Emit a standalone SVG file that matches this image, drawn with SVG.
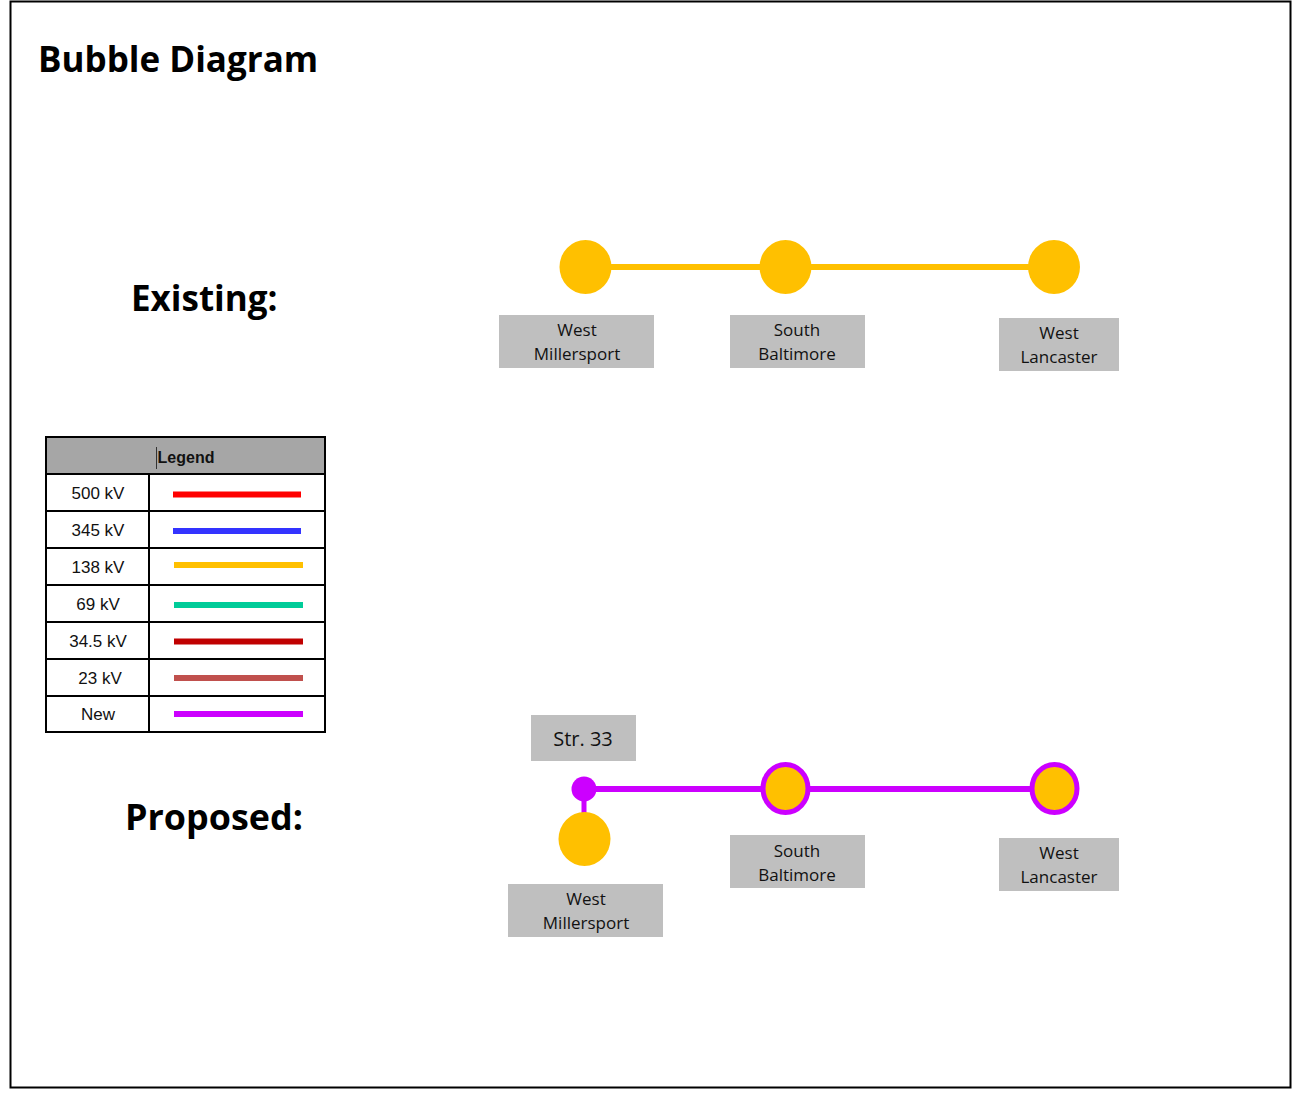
<svg xmlns="http://www.w3.org/2000/svg" width="1294" height="1095" viewBox="0 0 1294 1095">
<style>
.title{font-family:"Open Sans","Liberation Sans",sans-serif;font-weight:bold;font-size:35px;fill:#000}
.lbl{font-family:"Open Sans","Liberation Sans",sans-serif;font-size:17px;fill:#111;text-anchor:middle}
.box{fill:#BFBFBF}
.bub{fill:#FFC000}
.leg{font-family:"Liberation Sans",Arial,sans-serif;font-size:17px;fill:#111;text-anchor:middle}
.cell{fill:#fff;stroke:#000;stroke-width:2}
.ll{stroke-width:6;fill:none}
</style>
<rect x="10.5" y="1.5" width="1280" height="1086" fill="#fff" stroke="#000" stroke-width="2"/>
<text class="title" x="38" y="72">Bubble Diagram</text>
<text class="title" x="131" y="311">Existing:</text>
<text class="title" x="125" y="830" textLength="178" lengthAdjust="spacingAndGlyphs">Proposed:</text>

<g id="legend">
<rect x="46" y="437" width="279" height="37" fill="#A6A6A6" stroke="#000" stroke-width="2"/>
<text x="186" y="463" font-family="Liberation Sans,Arial,sans-serif" font-size="16" font-weight="bold" text-anchor="middle" fill="#111">Legend</text>
<line x1="156.5" y1="447" x2="156.5" y2="469" stroke="#333" stroke-width="1"/>
<rect class="cell" x="46" y="474" width="103" height="37"/><rect class="cell" x="149" y="474" width="176" height="37"/>
<rect class="cell" x="46" y="511" width="103" height="37"/><rect class="cell" x="149" y="511" width="176" height="37"/>
<rect class="cell" x="46" y="548" width="103" height="37"/><rect class="cell" x="149" y="548" width="176" height="37"/>
<rect class="cell" x="46" y="585" width="103" height="37"/><rect class="cell" x="149" y="585" width="176" height="37"/>
<rect class="cell" x="46" y="622" width="103" height="37"/><rect class="cell" x="149" y="622" width="176" height="37"/>
<rect class="cell" x="46" y="659" width="103" height="37"/><rect class="cell" x="149" y="659" width="176" height="37"/>
<rect class="cell" x="46" y="696" width="103" height="36"/><rect class="cell" x="149" y="696" width="176" height="36"/>
<text class="leg" x="98" y="499">500 kV</text>
<text class="leg" x="98" y="536">345 kV</text>
<text class="leg" x="98" y="573">138 kV</text>
<text class="leg" x="98" y="610">69 kV</text>
<text class="leg" x="98" y="647">34.5 kV</text>
<text class="leg" x="100" y="684">23 kV</text>
<text class="leg" x="98" y="720">New</text>
<line class="ll" x1="173" y1="494.5" x2="301" y2="494.5" stroke="#FF0000"/>
<line class="ll" x1="173" y1="531" x2="301" y2="531" stroke="#3333FF"/>
<line class="ll" x1="174" y1="565" x2="303" y2="565" stroke="#FFC000"/>
<line class="ll" x1="174" y1="605" x2="303" y2="605" stroke="#00CC99"/>
<line class="ll" x1="174" y1="641.5" x2="303" y2="641.5" stroke="#C00000"/>
<line class="ll" x1="174" y1="678" x2="303" y2="678" stroke="#C0504D"/>
<line class="ll" x1="174" y1="714" x2="303" y2="714" stroke="#CC00FF"/>
</g>

<g id="connectors">
<line x1="585" y1="267" x2="1054" y2="267" stroke="#FFC000" stroke-width="6"/>
<line x1="584" y1="789" x2="1054" y2="789" stroke="#CC00FF" stroke-width="6"/>
<line x1="584" y1="789" x2="584" y2="816" stroke="#CC00FF" stroke-width="5"/>
</g>

<g id="ex-west-millersport">
<ellipse class="bub" cx="585.5" cy="267" rx="26" ry="27"/>
<rect class="box" x="499" y="315" width="155" height="53"/>
<text class="lbl" x="577" y="336">West</text>
<text class="lbl" x="577" y="360">Millersport</text>
</g>
<g id="ex-south-baltimore">
<ellipse class="bub" cx="785.5" cy="267" rx="26" ry="27"/>
<rect class="box" x="730" y="315" width="135" height="53"/>
<text class="lbl" x="797" y="336">South</text>
<text class="lbl" x="797" y="360">Baltimore</text>
</g>
<g id="ex-west-lancaster">
<ellipse class="bub" cx="1054" cy="267" rx="26" ry="27"/>
<rect class="box" x="999" y="318" width="120" height="53"/>
<text class="lbl" x="1059" y="339">West</text>
<text class="lbl" x="1059" y="363">Lancaster</text>
</g>

<g id="str33">
<rect class="box" x="531" y="715" width="105" height="46"/>
<text x="583" y="746" font-family="Open Sans,Liberation Sans,sans-serif" font-size="20" text-anchor="middle" fill="#111">Str. 33</text>
<ellipse cx="584" cy="789" rx="12.5" ry="12.5" fill="#CC00FF"/>
</g>
<g id="pr-west-millersport">
<ellipse class="bub" cx="584.5" cy="839" rx="26" ry="27"/>
<rect class="box" x="508" y="884" width="155" height="53"/>
<text class="lbl" x="586" y="905">West</text>
<text class="lbl" x="586" y="929">Millersport</text>
</g>
<g id="pr-south-baltimore">
<ellipse class="bub" cx="785.5" cy="788.5" rx="22.5" ry="24" stroke="#CC00FF" stroke-width="5"/>
<rect class="box" x="730" y="835" width="135" height="53"/>
<text class="lbl" x="797" y="857">South</text>
<text class="lbl" x="797" y="881">Baltimore</text>
</g>
<g id="pr-west-lancaster">
<ellipse class="bub" cx="1054.5" cy="788.5" rx="22.5" ry="24" stroke="#CC00FF" stroke-width="5"/>
<rect class="box" x="999" y="838" width="120" height="53"/>
<text class="lbl" x="1059" y="859">West</text>
<text class="lbl" x="1059" y="883">Lancaster</text>
</g>
</svg>
